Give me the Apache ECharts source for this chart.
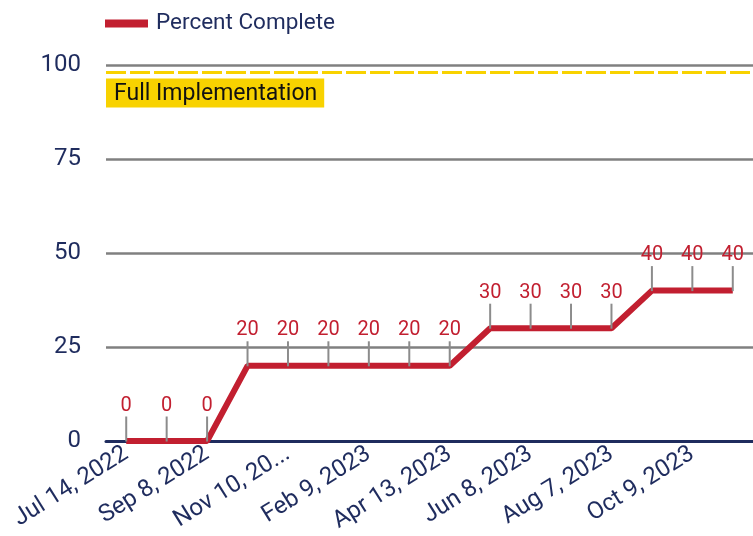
<!DOCTYPE html>
<html>
<head>
<meta charset="utf-8">
<script src="https://cdn.jsdelivr.net/npm/echarts@6/dist/echarts.min.js"></script>
<style>
  html, body { margin: 0; padding: 0; background: #fff; }
  #chart { width: 753px; height: 536px; }
</style>
</head>
<body>
<div id="chart"></div>
<script>
var dates = ['Jul 14, 2022', 'Aug 11, 2022', 'Sep 8, 2022', 'Oct 13, 2022', 'Nov 10, 2022', 'Jan 12, 2023',
  'Feb 9, 2023', 'Mar 9, 2023', 'Apr 13, 2023', 'May 11, 2023', 'Jun 8, 2023', 'Jul 13, 2023',
  'Aug 7, 2023', 'Sep 7, 2023', 'Oct 9, 2023', 'Nov 9, 2023'];
var percentComplete = [0, 0, 0, 20, 20, 20, 20, 20, 20, 30, 30, 30, 30, 40, 40, 40];
var fullImplementation = 98;

var red = '#C21F30';
var navy = '#1F2C5E';
var chart = echarts.init(document.getElementById('chart'));

chart.setOption({
  textStyle: { fontFamily: 'Roboto' },
  grid: { left: 106, right: -1, top: 65, bottom: 95 },
  legend: {
    left: 100,
    top: 7,
    itemWidth: 43,
    itemHeight: 8,
    icon: 'rect',
    textStyle: { color: navy, fontSize: 22.5, padding: [0, 0, 0, 3] },
    data: [{ name: 'Percent Complete', itemStyle: { color: red } }]
  },
  xAxis: {
    type: 'category',
    data: dates,
    axisLine: { lineStyle: { color: navy, width: 3 } },
    axisTick: { show: false },
    axisLabel: {
      interval: 1,
      rotate: 32,
      color: navy,
      fontSize: 24,
      margin: 11,
      width: 140,
      overflow: 'truncate',
      ellipsis: '...'
    }
  },
  yAxis: {
    type: 'value',
    min: 0,
    max: 100,
    interval: 25,
    axisLine: { show: false },
    axisTick: { show: false },
    axisLabel: { color: navy, fontSize: 24, margin: 25 },
    splitLine: { lineStyle: { color: '#808080', width: 2.5 } }
  },
  series: [{
    name: 'Percent Complete',
    type: 'line',
    data: percentComplete,
    lineStyle: { color: red, width: 6 },
    symbol: 'rect',
    symbolSize: [2, 25],
    symbolOffset: [0, -12],
    itemStyle: { color: '#8C8C8C' },
    label: {
      show: true,
      position: 'top',
      distance: 1,
      color: red,
      fontSize: 20
    },
    markLine: {
      silent: true,
      symbol: 'none',
      lineStyle: { color: '#F8D200', width: 3, type: [20, 4] },
      label: {
        position: 'insideStartBottom',
        formatter: 'Full Implementation',
        color: '#111',
        fontSize: 23,
        backgroundColor: '#F8D200',
        padding: [4, 7, 2, 8],
        distance: [0, 6]
      },
      data: [{ yAxis: fullImplementation }]
    }
  }]
});
</script>
</body>
</html>
